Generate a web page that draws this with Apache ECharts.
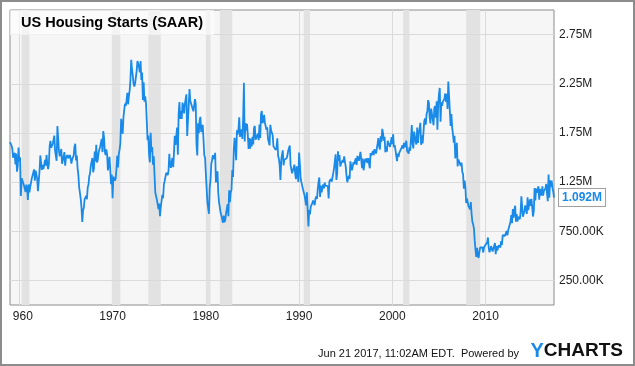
<!DOCTYPE html>
<html>
<head>
<meta charset="utf-8">
<script src="https://cdn.jsdelivr.net/npm/echarts@6/dist/echarts.min.js"></script>
<style>
  html, body { margin: 0; padding: 0; background: #fff; }
  #chart { width: 635px; height: 366px; }
</style>
</head>
<body>
<div id="chart"></div>
<script>
// monthly housing starts, thousands SAAR, Jan 1959 - May 2017
const firstYear = 1959;
const starts = [
  1657, 1667, 1620, 1590, 1498, 1503, 1547, 1430, 1540, 1355, 1416, 1601, // 1959
  1460, 1503, 1109, 1289, 1266, 1260, 1215, 1181, 1150, 1224, 1187, 1068, // 1960
  1226, 1146, 1200, 1180, 1286, 1285, 1278, 1379, 1263, 1365, 1362, 1285, // 1961
  1157, 1258, 1364, 1521, 1503, 1374, 1425, 1383, 1420, 1477, 1418, 1526, // 1962
  1439, 1382, 1433, 1615, 1670, 1599, 1600, 1637, 1625, 1722, 1570, 1556, // 1963
  1467, 1820, 1695, 1567, 1512, 1524, 1586, 1437, 1472, 1509, 1555, 1417, // 1964
  1498, 1499, 1527, 1490, 1475, 1525, 1490, 1439, 1481, 1487, 1523, 1613, // 1965
  1640, 1470, 1520, 1390, 1320, 1195, 1140, 1080, 990, 845, 960, 990,     // 1966
  1075, 1060, 1110, 1075, 1195, 1225, 1310, 1340, 1420, 1400, 1495, 1350, // 1967
  1390, 1560, 1460, 1630, 1450, 1480, 1550, 1530, 1610, 1590, 1690, 1555, // 1968
  1769, 1705, 1561, 1524, 1583, 1528, 1368, 1358, 1507, 1381, 1229, 1327, // 1969
  1085, 1305, 1319, 1264, 1290, 1385, 1517, 1399, 1534, 1580, 1647, 1893, // 1970
  1828, 1741, 1910, 1986, 2049, 2026, 2083, 2158, 2041, 2128, 2182, 2295, // 1971
  2494, 2390, 2334, 2249, 2221, 2254, 2252, 2382, 2481, 2485, 2421, 2366, // 1972
  2481, 2289, 2365, 2084, 2266, 2067, 2123, 2051, 1874, 1677, 1724, 1526, // 1973
  1451, 1752, 1555, 1607, 1426, 1513, 1316, 1142, 1150, 1070, 1026, 975,  // 1974
  1032, 904, 993, 1005, 1121, 1087, 1226, 1260, 1264, 1344, 1360, 1321,   // 1975
  1367, 1538, 1421, 1395, 1459, 1495, 1401, 1550, 1720, 1629, 1641, 1804, // 1976
  1527, 1943, 2063, 1892, 1971, 1893, 2058, 2020, 1949, 2042, 2042, 2142, // 1977
  1718, 1738, 2032, 2197, 2075, 2070, 2092, 1996, 1970, 1981, 2094, 2044, // 1978
  1630, 1520, 1847, 1748, 1876, 1913, 1760, 1778, 1832, 1681, 1524, 1498, // 1979
  1341, 1350, 1047, 1051, 927, 1196, 1269, 1436, 1471, 1523, 1510, 1482,  // 1980
  1547, 1246, 1306, 1360, 1140, 1045, 1041, 940, 911, 873, 837, 910,      // 1981
  843, 866, 931, 917, 1025, 902, 1166, 1046, 1144, 1173, 1372, 1303,      // 1982
  1586, 1699, 1606, 1472, 1776, 1733, 1785, 1910, 1710, 1715, 1785, 1688, // 1983
  1897, 2260, 1663, 1851, 1774, 1843, 1732, 1586, 1698, 1590, 1689, 1612, // 1984
  1711, 1632, 1800, 1821, 1680, 1676, 1684, 1743, 1676, 1834, 1698, 1942, // 1985
  1972, 1848, 1876, 1933, 1854, 1847, 1782, 1807, 1687, 1681, 1623, 1833, // 1986
  1774, 1784, 1726, 1614, 1628, 1594, 1575, 1605, 1695, 1515, 1487, 1422, // 1987
  1271, 1473, 1532, 1573, 1421, 1478, 1467, 1493, 1492, 1522, 1569, 1563, // 1988
  1621, 1425, 1422, 1339, 1331, 1397, 1427, 1332, 1279, 1410, 1351, 1251, // 1989
  1551, 1437, 1289, 1248, 1212, 1177, 1171, 1115, 1110, 1014, 1145, 969,  // 1990
  798, 965, 921, 1001, 996, 1036, 1063, 1049, 1015, 1079, 1103, 1079,     // 1991
  1176, 1250, 1297, 1099, 1214, 1145, 1139, 1226, 1186, 1244, 1214, 1227, // 1992
  1210, 1210, 1083, 1258, 1260, 1280, 1254, 1300, 1343, 1392, 1376, 1533, // 1993
  1272, 1337, 1564, 1465, 1526, 1409, 1439, 1450, 1474, 1450, 1511, 1455, // 1994
  1407, 1316, 1249, 1267, 1314, 1281, 1461, 1416, 1369, 1369, 1452, 1431, // 1995
  1467, 1491, 1424, 1516, 1504, 1467, 1472, 1557, 1475, 1392, 1489, 1370, // 1996
  1355, 1486, 1457, 1492, 1442, 1494, 1437, 1390, 1546, 1520, 1510, 1566, // 1997
  1525, 1584, 1567, 1540, 1536, 1641, 1698, 1614, 1582, 1715, 1660, 1792, // 1998
  1748, 1670, 1710, 1553, 1611, 1559, 1669, 1648, 1635, 1608, 1648, 1708, // 1999
  1636, 1737, 1604, 1626, 1575, 1559, 1463, 1541, 1507, 1549, 1551, 1532, // 2000
  1600, 1625, 1590, 1649, 1605, 1636, 1670, 1567, 1562, 1540, 1602, 1568, // 2001
  1698, 1829, 1642, 1592, 1764, 1717, 1655, 1633, 1804, 1648, 1753, 1788, // 2002
  1853, 1629, 1726, 1643, 1751, 1867, 1897, 1833, 1939, 1967, 2083, 2057, // 2003
  1911, 1846, 1998, 2003, 1981, 1828, 2002, 2024, 1905, 2072, 1782, 2042, // 2004
  2144, 2207, 1864, 2061, 2025, 2068, 2054, 2095, 2151, 2065, 2147, 1994, // 2005
  2273, 2119, 1969, 1821, 1942, 1802, 1737, 1650, 1720, 1491, 1570, 1649, // 2006
  1409, 1480, 1495, 1490, 1415, 1448, 1354, 1330, 1183, 1264, 1197, 1037, // 2007
  1084, 1103, 1005, 1013, 973, 1046, 923, 844, 820, 777, 652, 560,        // 2008
  490, 582, 505, 478, 540, 585, 594, 586, 585, 534, 588, 581,             // 2009
  614, 604, 636, 687, 583, 536, 546, 599, 594, 543, 545, 539,             // 2010
  630, 517, 600, 554, 561, 608, 623, 585, 650, 610, 711, 694,             // 2011
  723, 704, 695, 753, 708, 757, 740, 754, 847, 915, 833, 976,             // 2012
  888, 962, 1010, 847, 925, 847, 897, 883, 873, 936, 1105, 1003,          // 2013
  897, 927, 957, 1013, 1021, 927, 1095, 966, 1023, 1074, 1007, 1080,      // 2014
  1071, 900, 954, 1190, 1064, 1184, 1141, 1140, 1208, 1071, 1179, 1144,   // 2015
  1114, 1208, 1113, 1160, 1143, 1186, 1231, 1135, 1055, 1328, 1091, 1268, // 2016
  1203, 1265, 1189, 1155, 1092                                            // 2017
];

// NBER recessions (peak month, trough month)
const recessions = [
  ['1960-04', '1961-02'], ['1969-12', '1970-11'], ['1973-11', '1975-03'],
  ['1980-01', '1980-07'], ['1981-07', '1982-11'], ['1990-07', '1991-03'],
  ['2001-03', '2001-11'], ['2007-12', '2009-06']
];

const yTicks = [250, 750, 1250, 1750, 2250, 2750];
const decadeYears = [1960, 1970, 1980, 1990, 2000, 2010];

const months = starts.map((_, i) => {
  const y = firstYear + Math.floor(i / 12);
  const m = (i % 12) + 1;
  return y + '-' + (m < 10 ? '0' + m : m);
});

const fmtK = v => v >= 1000 ? (v / 1000).toFixed(2) + 'M' : v.toFixed(2) + 'K';
const isDecade = v => v.endsWith('-01') && decadeYears.includes(+v.slice(0, 4));
const lastVal = starts[starts.length - 1];

const font = '"Liberation Sans", Arial, sans-serif';
const blue = '#1a8ae8';

const chart = echarts.init(document.getElementById('chart'));

const option = {
  animation: false,
  backgroundColor: '#fff',
  textStyle: { fontFamily: font },
  title: {
    text: 'US Housing Starts (SAAR)',
    left: 10,
    top: 10,
    padding: [4, 11, 4, 11],
    backgroundColor: 'rgba(255,255,255,0.6)',
    textStyle: {
      fontFamily: font,
      fontSize: 14.5,
      fontWeight: 'bold',
      color: '#000',
      lineHeight: 17
    },
    z: 10
  },
  grid: {
    left: 10,
    top: 10,
    right: 81,
    bottom: 61,
    show: true,
    backgroundColor: '#f6f6f6',
    borderColor: '#8c8c8c',
    borderWidth: 1
  },
  xAxis: {
    type: 'category',
    data: months,
    boundaryGap: false,
    axisLine: { show: false },
    axisTick: { show: false },
    axisLabel: {
      interval: (i, v) => isDecade(v),
      color: '#222',
      fontSize: 12,
      margin: 6,
      formatter: v => v.startsWith('1960') ? '{s|960}' : v.slice(0, 4),
      rich: { s: { fontSize: 12, color: '#222', padding: [0, 0, 0, 7] } }
    },
    splitLine: {
      show: true,
      interval: (i, v) => isDecade(v),
      lineStyle: { color: '#dadada', width: 1 }
    }
  },
  yAxis: {
    type: 'value',
    position: 'right',
    min: 0,
    max: 3000,
    interval: 250,
    axisLine: { show: false },
    axisTick: { show: false },
    splitLine: { show: false },
    axisLabel: {
      color: '#222',
      fontSize: 12,
      margin: 5,
      formatter: v => yTicks.includes(v) ? fmtK(v) : ''
    }
  },
  series: [
    {
      // background layer: recession bands and horizontal grid
      type: 'line',
      data: starts,
      showSymbol: false,
      silent: true,
      lineStyle: { opacity: 0 },
      z: 1,
      markArea: {
        silent: true,
        itemStyle: { color: '#e2e2e2' },
        data: recessions.map(r => [{ xAxis: r[0] }, { xAxis: r[1] }])
      },
      markLine: {
        silent: true,
        symbol: 'none',
        label: { show: false },
        lineStyle: { color: '#dadada', width: 1, type: 'solid' },
        data: yTicks.map(v => ({ yAxis: v }))
      }
    },
    {
      name: 'US Housing Starts',
      type: 'line',
      data: starts,
      showSymbol: false,
      z: 5,
      lineStyle: { color: blue, width: 1.8 },
      itemStyle: { color: blue },
      endLabel: {
        show: true,
        formatter: () => (lastVal / 1000).toFixed(3) + 'M',
        color: blue,
        fontFamily: font,
        fontSize: 12,
        fontWeight: 'bold',
        backgroundColor: '#fff',
        borderColor: '#a0a0a0',
        borderWidth: 1,
        padding: [3, 3, 2, 3],
        distance: 5
      }
    }
  ],
  graphic: [
    {
      type: 'rect',
      shape: { x: 1, y: 1, width: 633, height: 364 },
      style: { fill: 'none', stroke: '#8c8c8c', lineWidth: 2 },
      silent: true
    },
    {
      type: 'text',
      right: 116,
      top: 348,
      style: {
        text: 'Jun 21 2017, 11:02AM EDT.  Powered by',
        font: '11px ' + font,
        fill: '#111'
      }
    },
    {
      type: 'text',
      right: 12,
      top: 341,
      style: {
        text: '{y|Y}{c|CHARTS}',
        rich: {
          y: { fontSize: 20, fontWeight: 'bold', fill: blue, fontFamily: font },
          c: { fontSize: 19, fontWeight: 'bold', fill: '#111', fontFamily: font }
        }
      }
    }
  ]
};

chart.setOption(option);
</script>
</body>
</html>
